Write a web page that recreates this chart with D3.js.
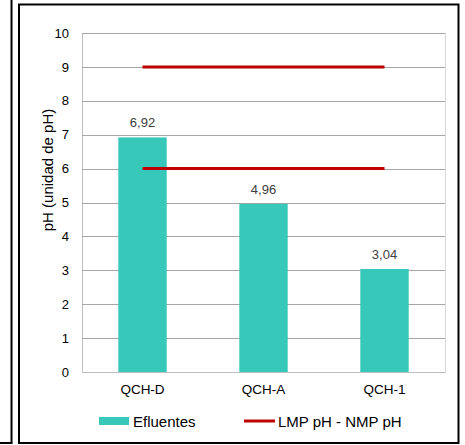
<!DOCTYPE html>
<html>
<head>
<meta charset="utf-8">
<script src="https://cdn.jsdelivr.net/npm/d3@7"></script>
<style>
  html, body { margin: 0; padding: 0; background: #fff; }
  svg { display: block; font-family: "Liberation Sans", Arial, sans-serif; }
</style>
</head>
<body>
<svg id="chart" width="465" height="445"></svg>
<script>
// Sampling points and measured pH of effluents
const categories = ["QCH-D", "QCH-A", "QCH-1"];
const efluentes = [6.92, 4.96, 3.04];
// Permissible range: LMP upper limit and NMP lower limit
const lmpUpper = [9, 9, 9];
const lmpLower = [6, 6, 6];
const yTicks = [0, 1, 2, 3, 4, 5, 6, 7, 8, 9, 10];

const svg = d3.select("#chart");
const plot = { left: 82, right: 445, top: 33, bottom: 372 };

const x = d3.scaleBand().domain(categories).range([plot.left, plot.right]).padding(0);
const y = d3.scaleLinear().domain([0, 10]).range([plot.bottom, plot.top]);
const barW = x.bandwidth() * 0.4;
const cx = d => x(d) + x.bandwidth() / 2;

// Outer frames
svg.append("line").attr("x1", 11.5).attr("x2", 11.5).attr("y1", 0).attr("y2", 443)
  .attr("stroke", "#000").attr("stroke-width", 2);
svg.append("line").attr("x1", 0).attr("x2", 12.5).attr("y1", 443).attr("y2", 443)
  .attr("stroke", "#000").attr("stroke-width", 2);
svg.append("rect").attr("x", 19).attr("y", 4.5).attr("width", 439.5).attr("height", 438.5)
  .attr("fill", "none").attr("stroke", "#000").attr("stroke-width", 2);

// Plot area border
svg.append("rect").attr("x", plot.left + 0.5).attr("y", plot.top + 0.5)
  .attr("width", plot.right - plot.left).attr("height", plot.bottom - plot.top)
  .attr("fill", "none").attr("stroke", "#d9d9d9").attr("stroke-width", 1);

// Gridlines and y axis labels
const yAxis = d3.axisLeft(y).tickValues(yTicks).tickSize(-(plot.right - plot.left)).tickPadding(13)
  .tickFormat(d3.format("d"));
const gy = svg.append("g").attr("transform", `translate(${plot.left},0)`).call(yAxis);
gy.select(".domain").attr("stroke", "#bfbfbf");
gy.selectAll(".tick line").attr("stroke", d => d === 0 ? "#bfbfbf" : "#a6a6a6")
  .attr("shape-rendering", "crispEdges");
gy.selectAll(".tick text").attr("font-size", 13).attr("fill", "#000")
  .attr("font-family", "Liberation Sans, Arial, sans-serif");

// Bars
svg.append("g").selectAll("rect").data(efluentes).join("rect")
  .attr("x", (d, i) => cx(categories[i]) - barW / 2)
  .attr("width", barW)
  .attr("y", d => y(d))
  .attr("height", d => y(0) - y(d))
  .attr("fill", "#37c8b9");

// Value labels
svg.append("g").selectAll("text").data(efluentes).join("text")
  .attr("x", (d, i) => cx(categories[i]))
  .attr("y", d => y(d) - 10)
  .attr("text-anchor", "middle").attr("font-size", 13).attr("fill", "#404040")
  .text(d => d3.format(".2f")(d).replace(".", ","));

// Limit lines
const line = d3.line().x((d, i) => cx(categories[i])).y(d => y(d));
[lmpUpper, lmpLower].forEach(s => {
  svg.append("path").datum(s).attr("d", line)
    .attr("fill", "none").attr("stroke", "#c00000").attr("stroke-width", 3);
});

// X axis labels
const xAxis = d3.axisBottom(x).tickSize(0).tickPadding(12);
const gx = svg.append("g").attr("transform", `translate(0,${plot.bottom})`).call(xAxis);
gx.select(".domain").remove();
gx.selectAll(".tick text").attr("font-size", 13.5).attr("fill", "#000")
  .attr("font-family", "Liberation Sans, Arial, sans-serif");

// Y axis title
svg.append("text")
  .attr("transform", "translate(53,170) rotate(-90)")
  .attr("text-anchor", "middle").attr("font-size", 15).attr("fill", "#000")
  .text("pH (unidad de pH)");

// Legend
const lg = svg.append("g");
lg.append("rect").attr("x", 99).attr("y", 417).attr("width", 30).attr("height", 8).attr("fill", "#37c8b9");
lg.append("text").attr("x", 133).attr("y", 427).attr("font-size", 15).text("Efluentes");
lg.append("line").attr("x1", 244).attr("x2", 275).attr("y1", 421).attr("y2", 421)
  .attr("stroke", "#c00000").attr("stroke-width", 3);
lg.append("text").attr("x", 278).attr("y", 427).attr("font-size", 15).text("LMP pH - NMP pH");
</script>
</body>
</html>
